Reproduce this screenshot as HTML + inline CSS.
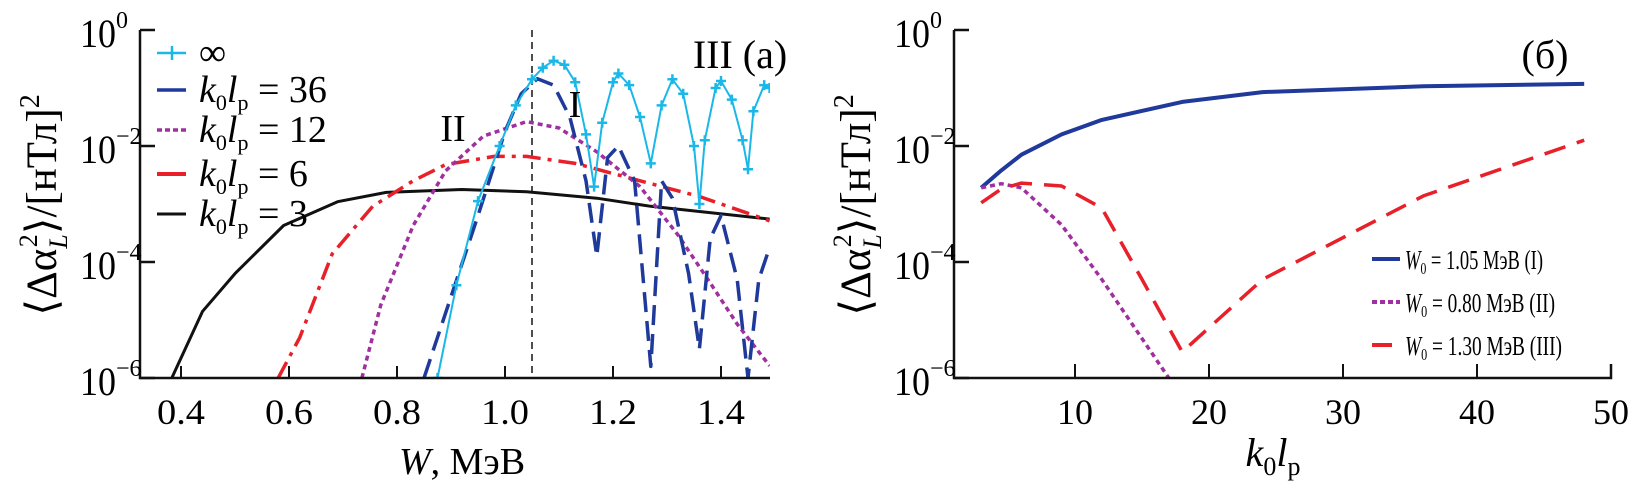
<!DOCTYPE html>
<html><head><meta charset="utf-8"><style>
body{margin:0;background:#fff}
svg{display:block;font-family:"Liberation Serif","DejaVu Serif",serif}
</style></head><body>
<svg id="c" width="1633" height="488" viewBox="0 0 1633 488"></svg>
<script>
// ---- panel (a) data: W (MeV) and log10 values
const wCyan=[0.875,0.91,0.95,0.99,1.02,1.05,1.07,1.09,1.11,1.13,1.15,1.165,1.18,1.2,1.21,1.23,1.25,1.27,1.29,1.31,1.33,1.35,1.36,1.37,1.39,1.40,1.42,1.44,1.45,1.46,1.48,1.49];
const lCyan=[-6,-4.4,-2.95,-2.0,-1.3,-0.85,-0.65,-0.53,-0.6,-0.9,-1.8,-2.7,-1.6,-0.9,-0.75,-0.95,-1.5,-2.3,-1.3,-0.85,-1.1,-2.0,-3.0,-1.9,-1.0,-0.88,-1.2,-1.9,-2.4,-1.4,-0.95,-1.0];
const w36=[0.85,0.9,0.95,1.0,1.03,1.06,1.09,1.12,1.15,1.17,1.19,1.21,1.24,1.27,1.29,1.31,1.34,1.36,1.38,1.40,1.43,1.45,1.47,1.49];
const l36=[-6,-4.6,-3.2,-1.75,-1.1,-0.84,-0.95,-1.5,-2.6,-3.9,-2.2,-2.0,-2.6,-5.8,-2.6,-2.9,-4.2,-5.5,-3.6,-3.2,-4.3,-6,-4.3,-3.75];
const w12=[0.735,0.77,0.83,0.89,0.96,1.04,1.1,1.17,1.25,1.32,1.38,1.43,1.49];
const l12=[-6,-4.74,-3.37,-2.43,-1.83,-1.58,-1.69,-2.1,-2.7,-3.53,-4.36,-5.07,-5.79];
const w6=[0.58,0.62,0.68,0.755,0.83,0.89,0.98,1.04,1.13,1.25,1.36,1.49];
const l6=[-6,-5.3,-3.86,-3.04,-2.6,-2.32,-2.18,-2.18,-2.3,-2.6,-2.87,-3.29];
const w3=[0.383,0.44,0.5,0.59,0.69,0.78,0.92,1.04,1.17,1.27,1.49];
const l3=[-6,-4.85,-4.2,-3.37,-2.96,-2.8,-2.75,-2.79,-2.9,-3.04,-3.26];
const xTicksA=[0.4,0.6,0.8,1.0,1.2,1.4];
const xTickLabelsA=["0.4","0.6","0.8","1.0","1.2","1.4"];
const yTicks=[0,-2,-4,-6];
// ---- panel (b) data: k0lp and log10 values
const kB=[3,4.5,6,9,12,18,24,36,48];
const lBlue=[-2.72,-2.42,-2.15,-1.8,-1.55,-1.24,-1.07,-0.97,-0.93];
const kPurple=[3,4.5,6,9,12,17];
const lPurple=[-2.72,-2.65,-2.72,-3.36,-4.3,-6];
const kRed=[3,4.5,6,9,12,15,18,24,36,48];
const lRed=[-2.98,-2.74,-2.64,-2.69,-3.07,-4.3,-5.55,-4.3,-2.86,-1.9];
const xTicksB=[10,20,30,40,50];

const S=document.getElementById('c');const NS='http://www.w3.org/2000/svg';
function el(t,a,p){const e=document.createElementNS(NS,t);for(const k in a)e.setAttribute(k,a[k]);(p||S).appendChild(e);return e;}
const yS=v=>30+(-v)*58;
const xA=w=>505+(w-1.0)*540;
const xB=k=>1075+(k-10)*13.4;
function line(xs,ys,sx,attrs,name){
  const d=xs.map((x,i)=>(i?'L':'M')+sx(x).toFixed(1)+','+yS(ys[i]).toFixed(1)).join('');
  const p=el('path',Object.assign({d:d,fill:'none','stroke-linejoin':'round'},attrs));
  
  
  return p;
}
function txt(x,y,s,size,name,anchor,extra){
  const t=el('text',Object.assign({x:x,y:y,'font-size':size,'text-anchor':anchor||'start'},extra||{}));
  t.innerHTML=s;
  
  
  return t;
}
function lineG(g,...a){const p=line(...a);g.appendChild(p);return p;}
function ylabels(ax){
  yTicks.forEach(v=>{el('line',{x1:ax,y1:yS(v),x2:ax+15,y2:yS(v),stroke:'#111','stroke-width':2.5});
    txt(ax-24,yS(v)+17,'10',40,'y-tick-label','end',{textLength:36,lengthAdjust:'spacingAndGlyphs'});
    txt(ax-24,yS(v)-2,v===0?'0':'−'+(-v),24,'y-tick-exponent','start');});
}
function ytitle(x,name){
  txt(0,0,'⟨Δα<tspan font-size="26" dy="11" font-style="italic">L</tspan><tspan font-size="26" dx="-13" dy="-30">2</tspan><tspan dy="19">⟩/[нТл]</tspan><tspan font-size="28" dy="-17">2</tspan>',43,name,'middle',{transform:`translate(${x},205) rotate(-90)`});
}
// ===== Panel A
const clipA=el('clipPath',{id:'ca'});el('rect',{x:140,y:20,width:630,height:358},clipA);
const gA=el('g',{'clip-path':'url(#ca)'});


el('line',{x1:xA(1.05),y1:30,x2:xA(1.05),y2:378,stroke:'#222','stroke-width':1.6,'stroke-dasharray':'7,5'},gA);
lineG(gA,w3,l3,xA,{stroke:'#111','stroke-width':3},'series-k3');
lineG(gA,w6,l6,xA,{stroke:'#e8202a','stroke-width':3.5,'stroke-dasharray':'18,7,4,7'},'series-k6');
lineG(gA,w12,l12,xA,{stroke:'#a0309f','stroke-width':3.5,'stroke-dasharray':'5,4'},'series-k12');
lineG(gA,w36,l36,xA,{stroke:'#1f3a9a','stroke-width':3.5,'stroke-dasharray':'20,9'},'series-k36');
lineG(gA,wCyan,lCyan,xA,{stroke:'#1ab8e8','stroke-width':2},'series-inf');
wCyan.forEach((w,i)=>{const x=xA(w),y=yS(lCyan[i]);
  const m=el('path',{d:`M${x-5},${y}h10M${x},${y-5}v10`,stroke:'#1ab8e8','stroke-width':2.5},gA);
  
  });
const axA=el('path',{d:'M140,30V378H770',fill:'none',stroke:'#111','stroke-width':2.5});

ylabels(140);
xTicksA.forEach((w,i)=>{el('line',{x1:xA(w),y1:378,x2:xA(w),y2:366,stroke:'#111','stroke-width':2});
  txt(xA(w),424,xTickLabelsA[i],36,'x-tick-label-a','middle',{textLength:48,lengthAdjust:'spacingAndGlyphs'});});
txt(462,474,'<tspan font-style="italic">W</tspan>, МэВ',38,'x-axis-title-a','middle');
ytitle(56,'y-axis-title-a');
const legA=[['∞','#1ab8e8',53,'none','2.5'],['36','#1f3a9a',90,'none','3.5'],['12','#a0309f',130,'5,3','3.5'],['6','#e8202a',174,'none','4'],['3','#111',214,'none','3']];
legA.forEach((e,i)=>{
  const l=el('line',{x1:157,y1:e[2],x2:186,y2:e[2],stroke:e[1],'stroke-width':e[4],'stroke-dasharray':e[3]});
  
  if(i===0)el('path',{d:`M172,${e[2]-7}v14`,stroke:e[1],'stroke-width':2.5});
  if(i===0)txt(199,e[2]+12,'∞',38,'legend-entry-inf');
  else txt(199,e[2]+12,'<tspan font-style="italic">k</tspan><tspan font-size="22" dy="8">0</tspan><tspan font-style="italic" dy="-8">l</tspan><tspan font-size="22" dy="8">p</tspan><tspan dy="-8"> = '+e[0]+'</tspan>',38,'legend-entry-k'+e[0]);
});
txt(575,117,'I',38,'label-I','middle');
txt(453,141,'II',38,'label-II','middle');
txt(740,68,'III (a)',40,'label-III-a','middle');
// ===== Panel B
const clipB=el('clipPath',{id:'cb'});el('rect',{x:954,y:20,width:660,height:358},clipB);
const gB=el('g',{'clip-path':'url(#cb)'});


lineG(gB,kB,lBlue,xB,{stroke:'#1f3a9a','stroke-width':4},'series-w105');
lineG(gB,kPurple,lPurple,xB,{stroke:'#a0309f','stroke-width':3.5,'stroke-dasharray':'5,4'},'series-w080');
lineG(gB,kRed,lRed,xB,{stroke:'#e8202a','stroke-width':3.5,'stroke-dasharray':'22,12'},'series-w130');
const axB=el('path',{d:'M954,30V378H1611V364',fill:'none',stroke:'#111','stroke-width':2.5});

ylabels(954);
xTicksB.forEach(k=>{el('line',{x1:xB(k),y1:378,x2:xB(k),y2:364,stroke:'#111','stroke-width':2});
  txt(xB(k),424,String(k),36,'x-tick-label-b','middle',{textLength:36,lengthAdjust:'spacingAndGlyphs'});});
txt(1273,466,'<tspan font-style="italic">k</tspan><tspan font-size="26" dy="9">0</tspan><tspan font-style="italic" dy="-9">l</tspan><tspan font-size="26" dy="9">p</tspan>',40,'x-axis-title-b','middle');
ytitle(870,'y-axis-title-b');
const legB=[['1.05','I','#1f3a9a',259,'none',138],['0.80','II','#a0309f',302,'5,3',150],['1.30','III','#e8202a',345,'none',157]];
legB.forEach(e=>{
  const l=el('line',{x1:1372,y1:e[3],x2:(e[0]==='1.30'?1392:1400),y2:e[3],stroke:e[2],'stroke-width':4,'stroke-dasharray':e[4]});
  
  txt(1405,e[3]+10,'<tspan font-style="italic">W</tspan><tspan font-size="17" dy="5">0</tspan><tspan dy="-5"> = '+e[0]+' МэВ ('+e[1]+')</tspan>',27,'legend-entry-w'+e[0],'start',{textLength:e[5],lengthAdjust:'spacingAndGlyphs'});
});
txt(1545,68,'(б)',40,'label-b','middle');
</script>
</body></html>
